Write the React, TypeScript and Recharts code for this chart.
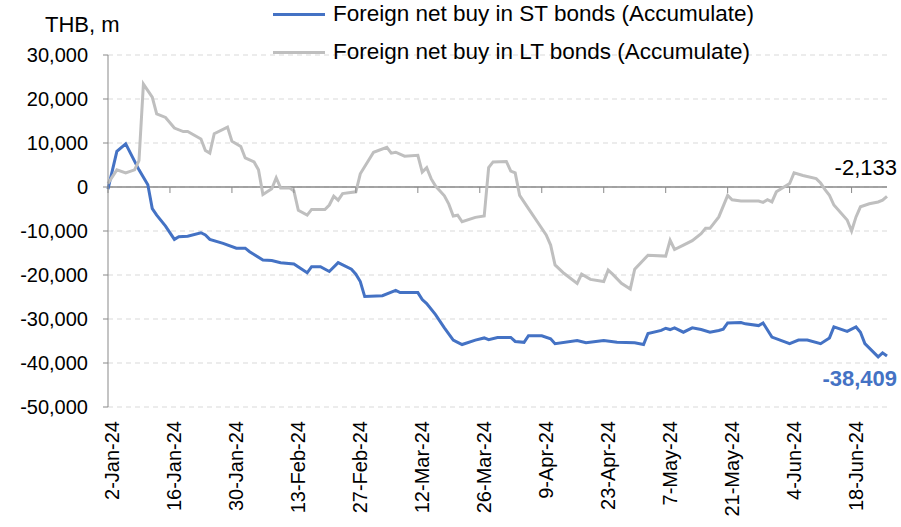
import { LineChart, Line, XAxis, YAxis, CartesianGrid, ReferenceLine } from 'recharts'

// days since 2-Jan-24, values in THB m (accumulated)
const stDay = [0, 2, 4, 7, 9, 10, 11, 13, 15, 16, 18, 21, 22, 23, 26, 29, 31, 32, 35, 37, 39, 42, 45, 46, 48, 50, 52, 55, 56, 57, 58, 62, 65, 66, 70, 71, 72, 74, 76, 78, 79, 80, 83, 85, 86, 88, 91, 92, 94, 95, 98, 100, 101, 106, 108, 112, 115, 119, 121, 122, 125, 126, 127, 128, 130, 132, 134, 136, 138, 139, 140, 143, 144, 147, 148, 150, 154, 156, 158, 161, 163, 164, 167, 169, 170, 171, 174, 175, 176]
const stValue = [-500, 8100, 9800, 3900, 500, -4900, -6400, -8900, -11900, -11300, -11200, -10400, -10900, -11900, -12800, -13900, -13900, -14700, -16600, -16700, -17200, -17500, -19500, -18100, -18100, -19200, -17200, -18700, -19800, -21500, -24900, -24700, -23500, -24000, -24000, -25600, -26500, -29000, -32000, -34800, -35300, -35800, -34800, -34300, -34700, -34200, -34200, -35100, -35300, -33800, -33800, -34500, -35600, -34900, -35400, -34900, -35300, -35400, -35800, -33300, -32600, -32100, -32400, -32000, -33000, -32000, -32400, -33000, -32600, -32300, -30900, -30800, -31100, -31500, -30900, -34100, -35600, -34800, -34800, -35600, -34300, -31800, -32800, -31800, -33000, -35600, -38600, -37700, -38409]

const ltDay = [0, 2, 4, 6, 7, 8, 10, 11, 13, 15, 17, 18, 21, 22, 23, 24, 27, 28, 30, 31, 33, 34, 35, 37, 38, 39, 41, 42, 43, 45, 46, 49, 50, 51, 52, 53, 56, 57, 60, 63, 64, 65, 67, 70, 71, 72, 73, 74, 76, 77, 78, 79, 80, 83, 85, 86, 87, 90, 91, 92, 93, 95, 97, 99, 100, 101, 103, 106, 107, 109, 112, 113, 114, 116, 118, 119, 122, 126, 127, 128, 130, 132, 134, 135, 136, 138, 140, 141, 143, 147, 148, 149, 150, 151, 154, 155, 157, 160, 161, 162, 163, 164, 167, 168, 169, 170, 172, 174, 175, 176]
const ltValue = [800, 3900, 3200, 3900, 6000, 23400, 20400, 16600, 15800, 13400, 12600, 12600, 10900, 8300, 7700, 12100, 13600, 10400, 9200, 6600, 5700, 3900, -1700, -400, 2100, -200, -200, -900, -5300, -6400, -5100, -5100, -4100, -2100, -3000, -1500, -1100, 3000, 7900, 9000, 7700, 7900, 7000, 7200, 3400, 4400, 1900, 200, -2000, -3900, -6600, -6400, -7900, -6900, -6600, 4400, 5700, 5800, 3600, 3200, -1900, -4900, -7900, -10900, -13200, -17700, -19600, -21900, -19800, -21000, -21500, -18900, -19800, -21900, -23200, -18700, -15500, -15700, -12100, -14200, -13200, -12200, -10600, -9400, -9400, -6800, -1900, -2900, -3200, -3200, -3500, -2900, -3400, -1100, 800, 3200, 2600, 1900, 900, -600, -1900, -4100, -7500, -10000, -6800, -4500, -3800, -3400, -3000, -2133]

const seriesNames = ['Foreign net buy in ST bonds (Accumulate)', 'Foreign net buy in LT bonds (Accumulate)']
const tickDays = [0, 14, 28, 42, 56, 70, 84, 98, 112, 126, 140, 154, 168]
const tickLabels = ['2-Jan-24', '16-Jan-24', '30-Jan-24', '13-Feb-24', '27-Feb-24', '12-Mar-24', '26-Mar-24', '9-Apr-24', '23-Apr-24', '7-May-24', '21-May-24', '4-Jun-24', '18-Jun-24']
const yTicks = [-50000, -40000, -30000, -20000, -10000, 0, 10000, 20000, 30000]

const stData = stDay.map((day, i) => ({ day, value: stValue[i] }))
const ltData = ltDay.map((day, i) => ({ day, value: ltValue[i] }))

const W = 901
const H = 527
const TOP = 55
const PLOT_H = 352
const Y_MIN = -50000
const Y_MAX = 30000
const ZERO_Y = TOP + (PLOT_H * Y_MAX) / (Y_MAX - Y_MIN)

const BLUE = '#4472C4'
const GREY = '#BFBFBF'
const AXIS = '#898989'
const FONT = "'Liberation Sans', Arial, sans-serif"

const fmt = (v: number) => v.toLocaleString('en-US')

const XTick = ({ x, y, payload }: any) => {
  const label = tickLabels[tickDays.indexOf(payload.value)]
  const ty = y + 14
  return (
    <g>
      <line x1={x} y1={ZERO_Y} x2={x} y2={ZERO_Y + 6} stroke={AXIS} strokeWidth={1} />
      <text
        x={x + 4}
        y={ty}
        transform={`rotate(-90 ${x + 4} ${ty})`}
        textAnchor="end"
        dominantBaseline="central"
        fontSize={20}
        fill="#000"
        fontFamily={FONT}
      >
        {label}
      </text>
    </g>
  )
}

const endLabel = (last: number, color: string, bold: boolean, dy: number) => (props: any) => {
  const { x, y, index, value } = props
  if (index !== last) return null
  return (
    <text x={x + 10} y={y + dy} textAnchor="end" fontSize={22} fontWeight={bold ? 'bold' : 'normal'} fill={color} fontFamily={FONT}>
      {fmt(value)}
    </text>
  )
}

export default function App() {
  return (
    <div style={{ position: 'fixed', left: 0, top: 0, width: W, height: H, fontFamily: FONT, background: '#fff' }}>
      <div style={{ position: 'absolute', left: 45, top: 11, fontSize: 22, lineHeight: '28px', color: '#000' }}>THB, m</div>
      {seriesNames.map((name, i) => (
        <div key={name} style={{ position: 'absolute', left: 273, top: i === 0 ? 0 : 38, height: 28, display: 'flex', alignItems: 'center', fontSize: 22.5, color: '#000', zIndex: 2 }}>
          <span style={{ display: 'inline-block', width: 52, height: 3, background: i === 0 ? BLUE : GREY, marginRight: 8 }} />
          <span>{name}</span>
        </div>
      ))}
      <LineChart width={W} height={H} margin={{ top: TOP, right: 14, bottom: 10, left: 8 }} style={{ overflow: 'visible' }}>
        <CartesianGrid vertical={false} stroke="#D9D9D9" strokeDasharray="5 4" />
        <XAxis
          type="number"
          dataKey="day"
          domain={[0, 176]}
          ticks={tickDays}
          interval={0}
          height={110}
          axisLine={false}
          tickLine={false}
          tickSize={0}
          tickMargin={0}
          tick={<XTick />}
        />
        <YAxis
          type="number"
          domain={[Y_MIN, Y_MAX]}
          ticks={yTicks}
          interval={0}
          width={100}
          axisLine={{ stroke: AXIS }}
          tickLine={{ stroke: AXIS }}
          tickSize={5}
          tickMargin={15}
          tickFormatter={fmt}
          tick={{ fill: '#000', fontSize: 20, fontFamily: FONT }}
        />
        <ReferenceLine y={0} stroke={AXIS} strokeWidth={1.5} />
        <Line
          data={stData}
          dataKey="value"
          name={seriesNames[0]}
          type="linear"
          stroke={BLUE}
          strokeWidth={3}
          dot={false}
          isAnimationActive={false}
          label={endLabel(stData.length - 1, BLUE, true, 30)}
        />
        <Line
          data={ltData}
          dataKey="value"
          name={seriesNames[1]}
          type="linear"
          stroke={GREY}
          strokeWidth={3}
          dot={false}
          isAnimationActive={false}
          label={endLabel(ltData.length - 1, '#000', false, -21)}
        />
      </LineChart>
    </div>
  )
}
